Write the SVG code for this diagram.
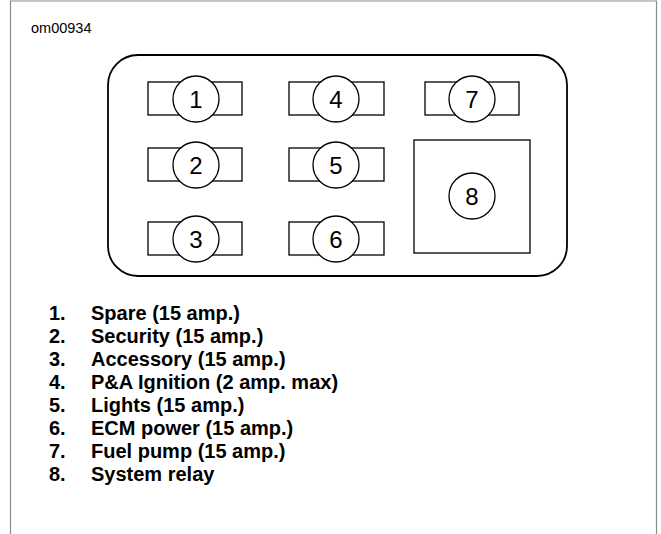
<svg xmlns="http://www.w3.org/2000/svg" width="661" height="534" viewBox="0 0 661 534">
<style>
.frame{fill:none;stroke:#8c8c8c;stroke-width:1.2}
.panel{fill:none;stroke:#000;stroke-width:1.8}
.fuse{fill:#fff;stroke:#000;stroke-width:1.3}
.callout{fill:#fff;stroke:#000;stroke-width:1.3}
.num{font-family:"Liberation Sans",Arial,sans-serif;font-size:24px;fill:#000;text-anchor:middle}
.item{font-family:"Liberation Sans",Arial,sans-serif;font-size:20px;font-weight:bold;fill:#000}
.tag{font-family:"Liberation Sans",Arial,sans-serif;font-size:14.5px;fill:#000}
</style>
<rect width="661" height="534" fill="#fff"/>
<path class="frame" d="M10.5,534 V1 H656.5 V534"/>
<text class="tag" x="31" y="33">om00934</text>
<rect id="panel" class="panel" x="108" y="55" width="459" height="221" rx="30" ry="30"/>
<g id="fuse1"><rect class="fuse" x="148" y="82" width="94" height="33"/><circle class="callout" cx="196" cy="99" r="23"/><text class="num" x="196" y="107.5">1</text></g>
<g id="fuse4"><rect class="fuse" x="289" y="82" width="95" height="33"/><circle class="callout" cx="336" cy="99" r="23"/><text class="num" x="336" y="107.5">4</text></g>
<g id="fuse7"><rect class="fuse" x="425" y="82" width="94" height="33"/><circle class="callout" cx="472" cy="99" r="23"/><text class="num" x="472" y="107.5">7</text></g>
<g id="fuse2"><rect class="fuse" x="148" y="148" width="94" height="33"/><circle class="callout" cx="196" cy="165" r="23"/><text class="num" x="196" y="173.5">2</text></g>
<g id="fuse5"><rect class="fuse" x="289" y="148" width="95" height="33"/><circle class="callout" cx="336" cy="165" r="23"/><text class="num" x="336" y="173.5">5</text></g>
<g id="fuse3"><rect class="fuse" x="148" y="222" width="94" height="33"/><circle class="callout" cx="196" cy="239" r="23"/><text class="num" x="196" y="247.5">3</text></g>
<g id="fuse6"><rect class="fuse" x="289" y="222" width="95" height="33"/><circle class="callout" cx="336" cy="239" r="23"/><text class="num" x="336" y="247.5">6</text></g>
<g id="relay8"><rect class="fuse" x="414" y="140" width="116" height="113"/><circle class="callout" cx="472" cy="196" r="23"/><text class="num" x="472" y="204.5">8</text></g>
<g id="connectors"/>
<g id="legend">
<text class="item" x="49" y="320">1.</text><text class="item" x="91" y="320">Spare (15 amp.)</text>
<text class="item" x="49" y="343">2.</text><text class="item" x="91" y="343">Security (15 amp.)</text>
<text class="item" x="49" y="366">3.</text><text class="item" x="91" y="366">Accessory (15 amp.)</text>
<text class="item" x="49" y="389">4.</text><text class="item" x="91" y="389">P&amp;A Ignition (2 amp. max)</text>
<text class="item" x="49" y="412">5.</text><text class="item" x="91" y="412">Lights (15 amp.)</text>
<text class="item" x="49" y="435">6.</text><text class="item" x="91" y="435">ECM power (15 amp.)</text>
<text class="item" x="49" y="458">7.</text><text class="item" x="91" y="458">Fuel pump (15 amp.)</text>
<text class="item" x="49" y="481">8.</text><text class="item" x="91" y="481">System relay</text>
</g>
</svg>
